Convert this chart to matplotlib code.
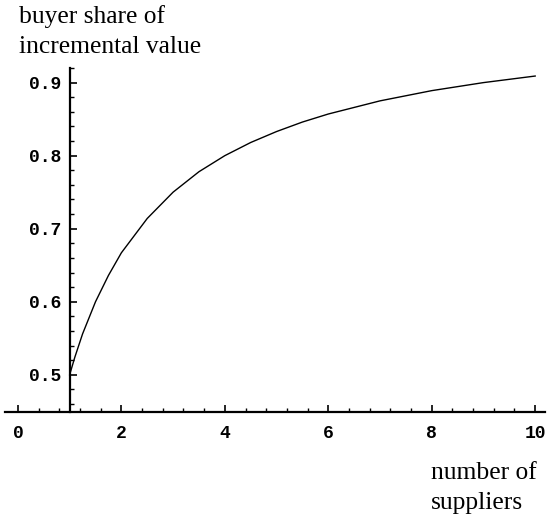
import matplotlib.pyplot as plt
from matplotlib.ticker import MultipleLocator

# number of suppliers vs buyer share of incremental value
suppliers = [1, 1.1, 1.25, 1.5, 1.75, 2, 2.5, 3, 3.5, 4, 4.5, 5, 5.5, 6, 7, 8, 9, 10]
buyer_share = [0.500, 0.524, 0.556, 0.600, 0.636, 0.667, 0.714, 0.750, 0.778,
               0.800, 0.818, 0.833, 0.846, 0.857, 0.875, 0.889, 0.900, 0.909]

x_ticks = [0, 2, 4, 6, 8, 10]
y_ticks = [0.5, 0.6, 0.7, 0.8, 0.9]

fig = plt.figure(figsize=(5.49, 5.25), dpi=100)
ax = fig.add_axes([5 / 549, 1 - 412 / 525, 540 / 549, 344 / 525])

ax.plot(suppliers, buyer_share, color='black', lw=1.0)

ax.set_xlim(-0.25, 10.19)
ax.set_ylim(0.449, 0.92)

ax.spines['top'].set_visible(False)
ax.spines['right'].set_visible(False)
ax.spines['left'].set_position(('data', 1))
ax.spines['left'].set_linewidth(1.6)
ax.spines['bottom'].set_linewidth(1.6)

ax.xaxis.set_minor_locator(MultipleLocator(0.4))
ax.yaxis.set_minor_locator(MultipleLocator(0.02))
ax.set_xticks(x_ticks)
ax.set_yticks(y_ticks)
ax.set_xticklabels([str(t) for t in x_ticks])
ax.set_yticklabels([f'{t:.1f}' for t in y_ticks])

ax.tick_params(which='major', direction='in', length=5, width=1.2)
ax.tick_params(which='minor', direction='in', length=3, width=1.0)
ax.tick_params(axis='x', which='major', pad=9)
ax.tick_params(axis='y', which='major', pad=6)

for lab in ax.get_xticklabels() + ax.get_yticklabels():
    lab.set_family('Liberation Mono')
    lab.set_fontweight('bold')
    lab.set_fontsize(13)

fig.text(19 / 549, 1 - 5 / 525, 'buyer share of\nincremental value',
         family='Liberation Serif', fontsize=18.4, ha='left', va='top',
         linespacing=1.45)
fig.text(431 / 549, 1 - 462 / 525, 'number of\nsuppliers',
         family='Liberation Serif', fontsize=18.4, ha='left', va='top',
         linespacing=1.45)

fig.savefig('out.png', dpi=100)
